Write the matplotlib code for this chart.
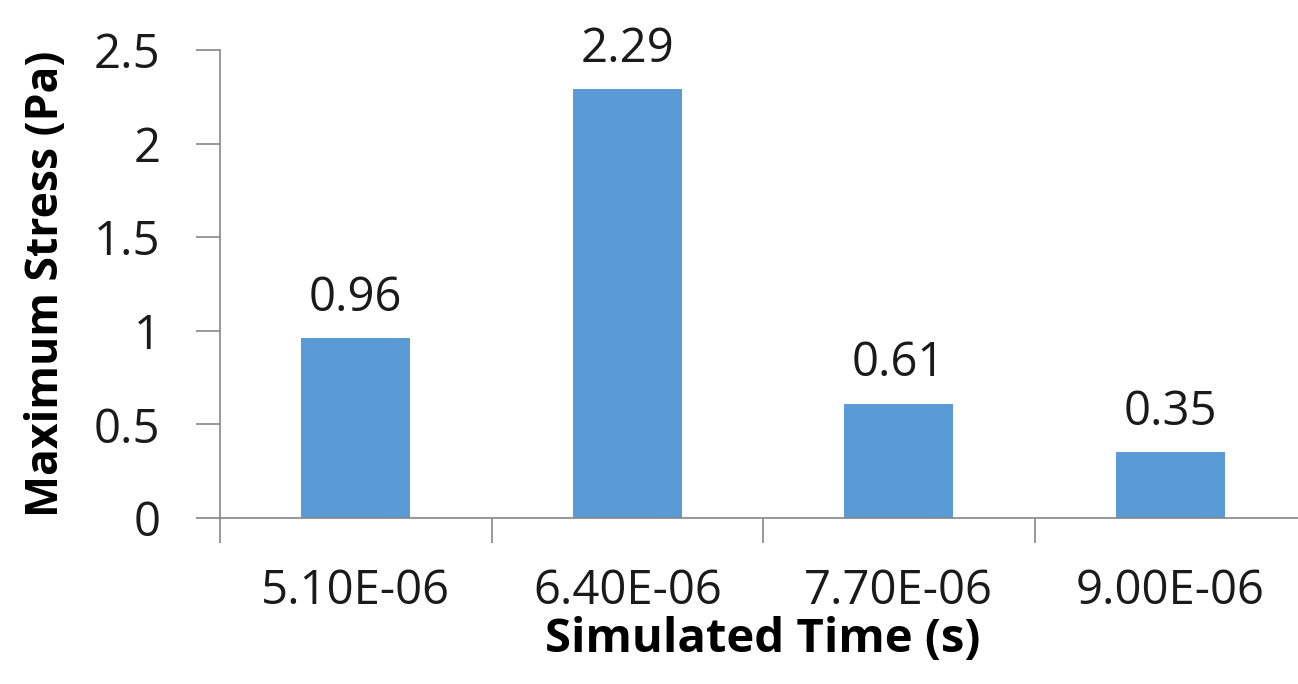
import matplotlib
matplotlib.use('Agg')
import matplotlib.pyplot as plt

times = ['5.10E-06', '6.40E-06', '7.70E-06', '9.00E-06']
stress = [0.96, 2.29, 0.61, 0.35]
yticks = [0, 0.5, 1, 1.5, 2, 2.5]
ytick_labels = ['0', '0.5', '1', '1.5', '2', '2.5']

plt.rcParams['font.family'] = ['Open Sans', 'DejaVu Sans']

fig = plt.figure(figsize=(12.98, 6.84), dpi=100)
# axis spans past the right edge, like the source image
ax = fig.add_axes([220 / 1298, 1 - 518 / 684, 1086 / 1298, 468 / 684])

x = list(range(len(times)))
ax.bar(x, stress, width=0.4, color='#5B9BD5')
for xi, v in zip(x, stress):
    ax.annotate('%.2f' % v, (xi, v), xytext=(0, 12), textcoords='offset points',
                ha='center', va='bottom', fontsize=34, color='#1a1a1a')

ax.set_xlim(-0.5, len(times) - 0.5)
ax.set_ylim(0, 2.5)
ax.set_yticks(yticks)
ax.set_yticklabels(ytick_labels)
ax.set_xticks(x)
ax.set_xticklabels(times)
ax.tick_params(axis='y', length=17, width=1.2, color='#868686', labelsize=34, pad=26, labelcolor='#1a1a1a')
ax.tick_params(axis='x', length=0, labelsize=34, pad=36, labelcolor='#1a1a1a')
# category separators below the x axis
ax.set_xticks([i - 0.5 for i in range(len(times) + 1)], minor=True)
ax.tick_params(axis='x', which='minor', length=18, width=1.2, color='#868686')

for s in ['top', 'right']:
    ax.spines[s].set_visible(False)
for s in ['left', 'bottom']:
    ax.spines[s].set_color('#868686')
    ax.spines[s].set_linewidth(1.2)

ax.set_xlabel('Simulated Time (s)', fontsize=34, fontweight='bold', labelpad=0)
ax.set_ylabel('Maximum Stress (Pa)', fontsize=32, fontweight='bold', labelpad=18)

fig.savefig('out.png', dpi=100)
